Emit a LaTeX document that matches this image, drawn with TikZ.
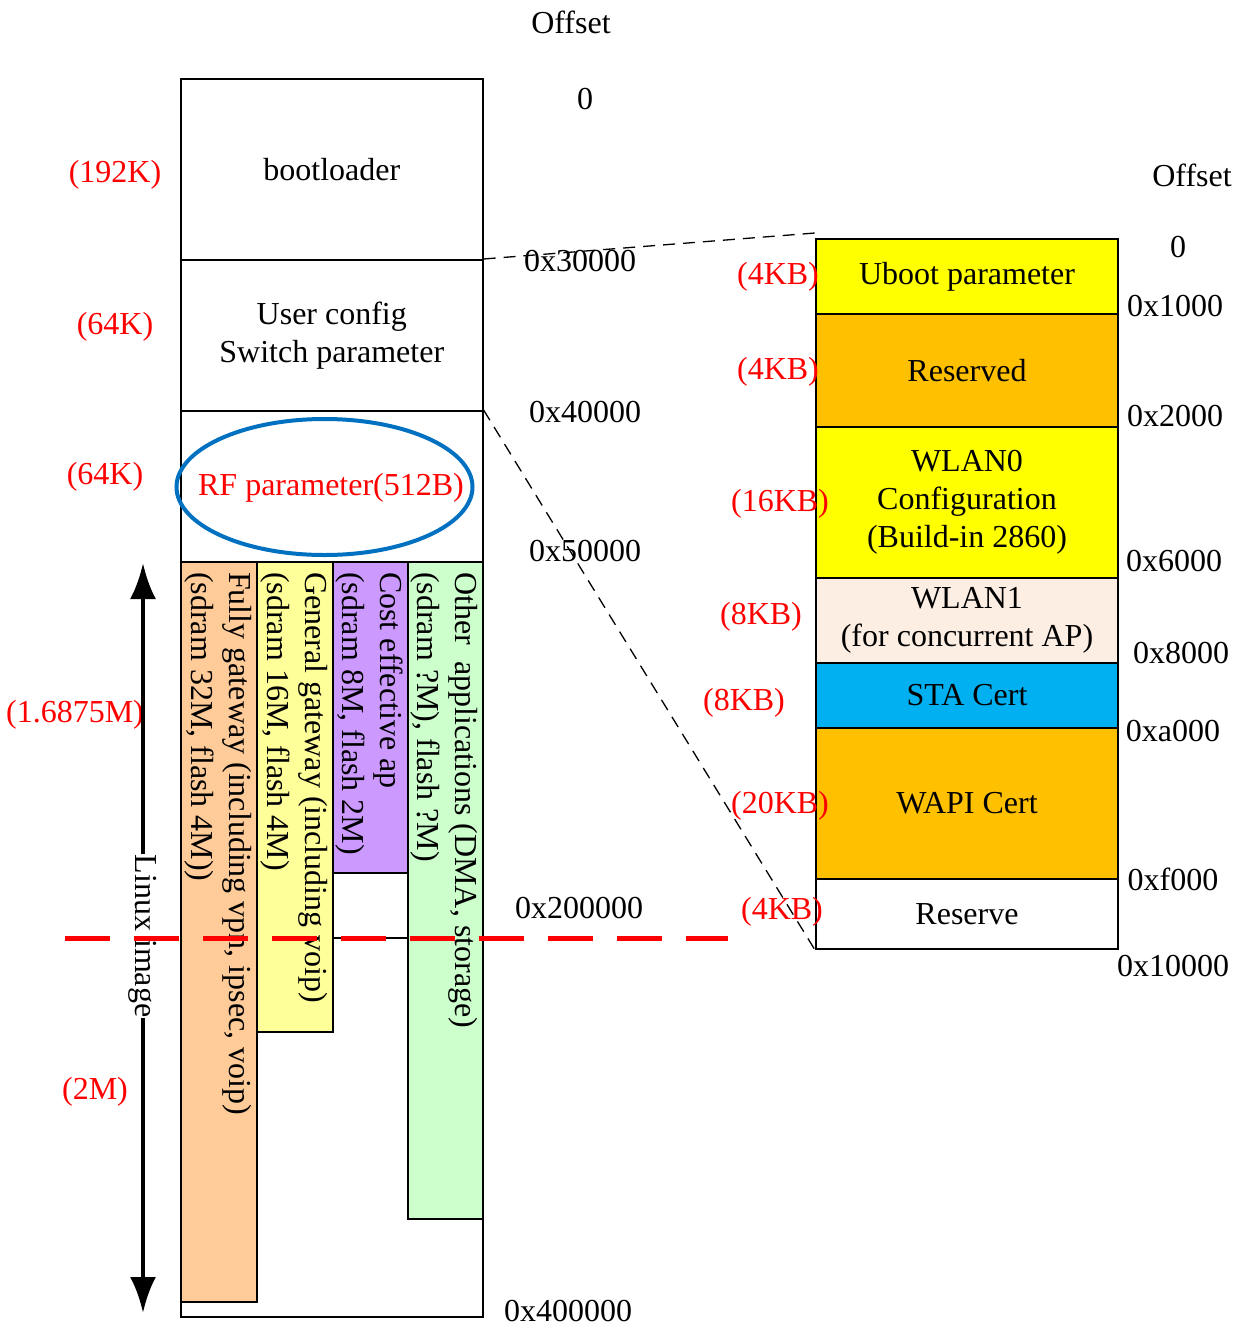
\documentclass[tikz,border=0pt]{standalone}
\usepackage{fontspec}
\setmainfont{Liberation Serif}
\usetikzlibrary{arrows.meta,shapes.geometric}
\definecolor{lblred}{HTML}{FF0000}
\definecolor{ellblue}{HTML}{0070C0}
\definecolor{corange}{HTML}{FFCC99}
\definecolor{cyellow}{HTML}{FFFF99}
\definecolor{cpurple}{HTML}{CC99FF}
\definecolor{cgreen}{HTML}{CCFFCC}
\definecolor{ryellow}{HTML}{FFFF00}
\definecolor{rorange}{HTML}{FFC000}
\definecolor{rpeach}{HTML}{FDEEE4}
\definecolor{rblue}{HTML}{00B0F0}
\begin{document}
\begin{tikzpicture}[x=1pt,y=-1pt,
  every node/.style={font=\fontsize{32}{38}\selectfont, inner sep=0pt},
  sec/.style={draw, line width=1.6pt, minimum width=302pt, minimum height=#1, anchor=north west, align=center},
  colbox/.style={draw, line width=2.2pt, anchor=north west},
  coltext/.style={rotate=-90, anchor=west, align=left},
  lbl/.style={yshift=-2.5pt},
  redlbl/.style={text=lblred, yshift=-2.5pt},
  rsec/.style={draw, line width=2pt, minimum width=302pt, minimum height=#1, anchor=north west, align=center},
  conn/.style={dash pattern=on 12pt off 8pt, line width=1.3pt}
]
\useasboundingbox (0,0) rectangle (1246,1330);

% ---- left memory map ----
\node[sec=181pt] (boot) at (180,78) {bootloader};
\node[sec=151pt] (user) at (180,259) {User config\\Switch parameter};
\node[sec=151pt] (rf) at (180,410) {};
\node[sec=755pt] (lower) at (180,561) {};

\node[colbox, fill=corange, minimum width=76pt, minimum height=740pt] (c1) at (180,561) {};
\node[colbox, fill=cyellow, minimum width=76pt, minimum height=470pt] (c2) at (256,561) {};
\node[colbox, fill=cpurple, minimum width=75pt, minimum height=311pt] (c3) at (332,561) {};
\node[colbox, fill=cgreen, minimum width=75pt, minimum height=657pt] (c4) at (407,561) {};
\coordinate (m1) at (332,938);
\coordinate (m2) at (407,938);
\draw[line width=1.6pt] (m1) -- (m2);

\node[coltext] (t1) at (218,572) {Fully gateway (including vpn, ipsec, voip)\\(sdram 32M, flash 4M))};
\node[coltext] (t2) at (294,572) {General gateway (including voip)\\(sdram 16M, flash 4M)};
\node[coltext] (t3) at (369.5,572) {Cost effective ap\\(sdram 8M, flash 2M)};
\node[coltext] (t4) at (444.5,572) {Other\ \ applications (DMA, storage)\\(sdram ?M), flash ?M)};

\node[ellipse, draw=ellblue, line width=4pt, minimum width=296pt, minimum height=136pt] (rfel) at (324.5,487) {};
\node[redlbl] (rftxt) at (331,485) {RF parameter(512B)};

% offsets left
\node[lbl] (off1) at (571,20) {Offset};
\node[lbl] (o0) at (585,97) {0};
\node[lbl] (o3) at (580,259) {0x30000};
\node[lbl] (o4) at (585,410) {0x40000};
\node[lbl] (o5) at (585,549) {0x50000};
\node[lbl] (o20) at (579,906) {0x200000};
\node (o40) at (568,1311) {0x400000};

% sizes left
\node[redlbl] (s1) at (115,172) {(192K)};
\node[redlbl] (s2) at (115,324) {(64K)};
\node[redlbl] (s3) at (105,474) {(64K)};
\node[redlbl] (s4) at (75,712) {(1.6875M)};
\node[redlbl] (s5) at (95,1089) {(2M)};

% Linux image arrow
\coordinate (atop) at (143,563);
\coordinate (abot) at (143,1313);
\draw[line width=4.5pt, {Latex[length=36pt,width=26pt]}-{Latex[length=36pt,width=26pt]}] (atop) -- (abot);
\node[rotate=-90, fill=white, inner sep=1pt] (linux) at (143,936) {Linux image};

% red dashed line
\coordinate (rd1) at (65,938);
\coordinate (rd2) at (728,938);
\draw[lblred, line width=5pt, dash pattern=on 45pt off 24pt] (rd1) -- (rd2);

% ---- right map ----
\node[rsec=75pt, fill=ryellow] (r1) at (815,238) {Uboot parameter};
\node[rsec=113pt, fill=rorange] (r2) at (815,313) {Reserved};
\node[rsec=151pt, fill=ryellow] (r3) at (815,426) {WLAN0\\Configuration\\(Build-in 2860)};
\node[rsec=85pt, fill=rpeach] (r4) at (815,577) {WLAN1\\(for concurrent AP)};
\node[rsec=65pt, fill=rblue] (r5) at (815,662) {STA Cert};
\node[rsec=151pt, fill=rorange] (r6) at (815,727) {WAPI Cert};
\node[rsec=70pt, fill=white] (r7) at (815,878) {Reserve};

% connectors
\coordinate (zt) at (815,233);
\draw[conn] (user.north east) -- (zt);
\draw[conn] (rf.north east) -- (r7.south west);

% offsets right
\node[lbl] (off2) at (1192,173) {Offset};
\node[lbl] (p0) at (1178,245) {0};
\node[lbl] (p1) at (1175,304) {0x1000};
\node[lbl] (p2) at (1175,414) {0x2000};
\node[lbl] (p6) at (1174,559) {0x6000};
\node[lbl] (p8) at (1181,651) {0x8000};
\node[lbl] (pa) at (1173,729) {0xa000};
\node[lbl] (pf) at (1173,877) {0xf000};
\node[lbl] (p10) at (1173,964) {0x10000};

% sizes right
\node[redlbl] (q1) at (778,274) {(4KB)};
\node[redlbl] (q2) at (778,369) {(4KB)};
\node[redlbl] (q3) at (780,501) {(16KB)};
\node[redlbl] (q4) at (761,614) {(8KB)};
\node[redlbl] (q5) at (744,700) {(8KB)};
\node[redlbl] (q6) at (780,803) {(20KB)};
\node[redlbl] (q7) at (782,909) {(4KB)};
\end{tikzpicture}
\end{document}
